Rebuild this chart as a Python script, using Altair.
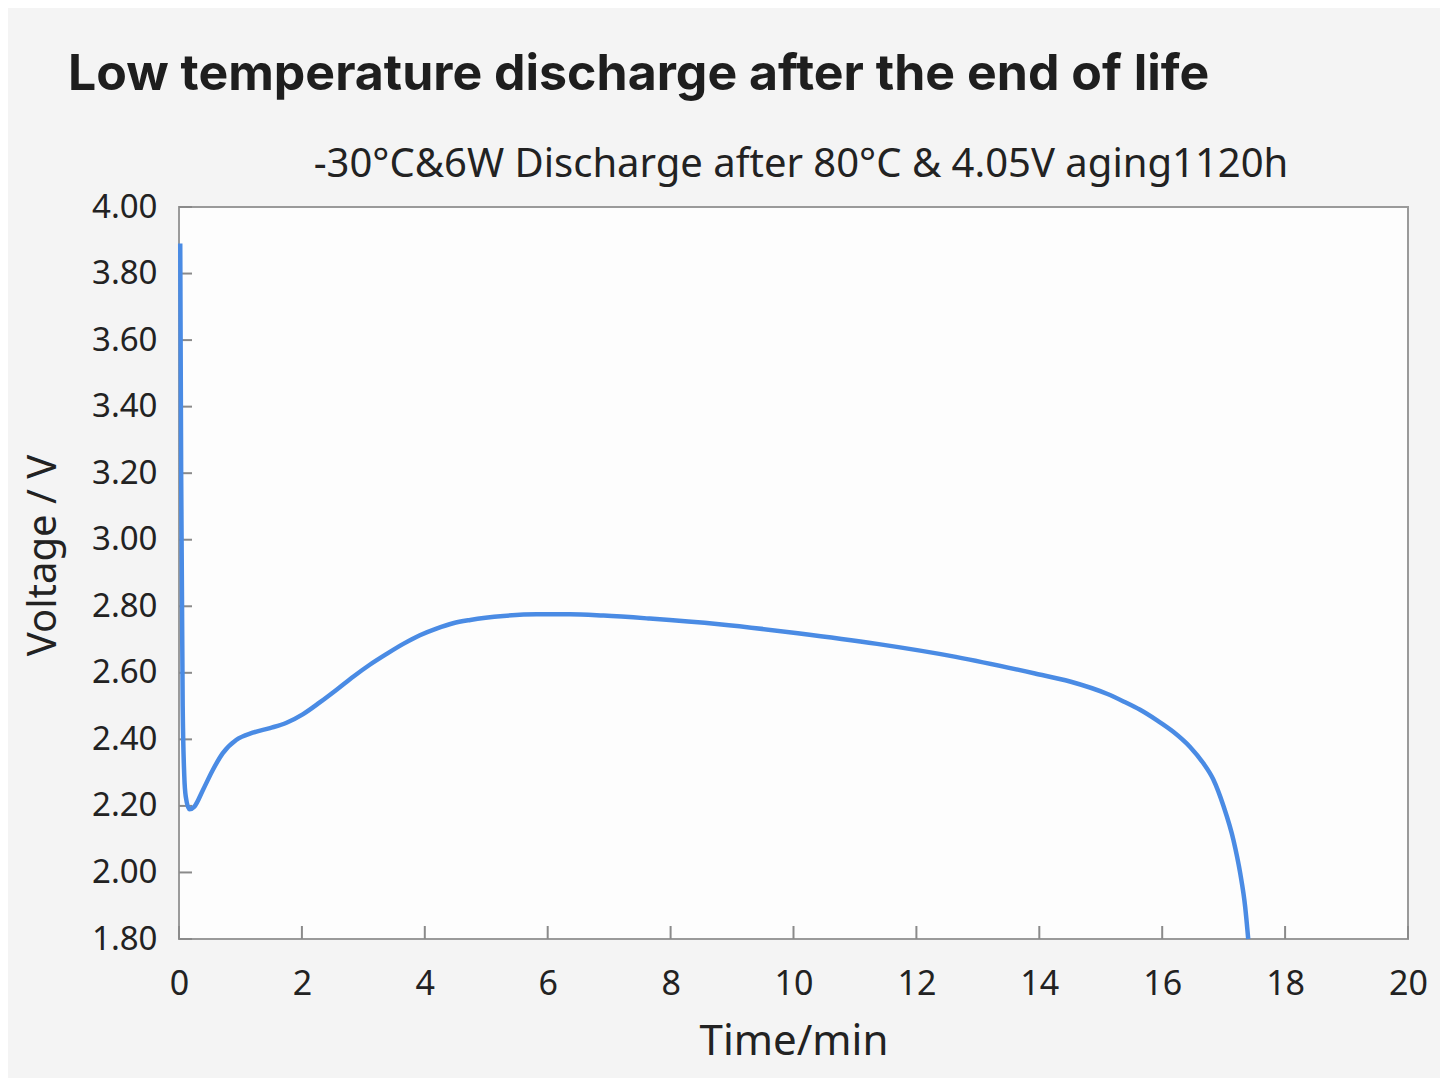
import altair as alt
import pandas as pd

# Discharge curve
time_min = [0.02, 0.035, 0.06, 0.086, 0.11, 0.17, 0.25, 0.39, 0.55, 0.71, 0.93, 1.20, 1.48,
            1.75, 2.02, 2.29, 2.57, 2.84, 3.11, 3.38, 3.65, 3.92, 4.19, 4.46, 4.74, 5.28,
            5.82, 6.36, 6.91, 7.66, 8.79, 10.07, 11.36, 12.64, 13.93, 14.50, 15.10,
            15.37, 15.64, 15.91, 16.18, 16.45, 16.67, 16.83, 17.00, 17.16, 17.27, 17.35, 17.40]
voltage_v = [3.89, 3.20, 2.50, 2.29, 2.228, 2.19, 2.198, 2.248, 2.308, 2.358, 2.398, 2.420, 2.434,
             2.450, 2.476, 2.511, 2.550, 2.589, 2.625, 2.657, 2.687, 2.713, 2.733, 2.749, 2.759, 2.771,
             2.776, 2.776, 2.772, 2.763, 2.746, 2.719, 2.687, 2.648, 2.598, 2.574, 2.537,
             2.514, 2.489, 2.458, 2.423, 2.378, 2.328, 2.280, 2.198, 2.097, 1.997, 1.897, 1.80]

x_ticks = [0, 2, 4, 6, 8, 10, 12, 14, 16, 18, 20]
y_ticks = [1.8, 2.0, 2.2, 2.4, 2.6, 2.8, 3.0, 3.2, 3.4, 3.6, 3.8, 4.0]

title_text = "Low temperature discharge after the end of life"
subtitle_text = "-30°C&6W Discharge after 80°C & 4.05V aging1120h"

W, H = 1229, 732
df = pd.DataFrame({"t": time_min, "v": voltage_v})
xt = pd.DataFrame({"t": x_ticks})
yt = pd.DataFrame({"v": y_ticks})

xscale = alt.Scale(domain=[0, 20], nice=False, zero=False)
yscale = alt.Scale(domain=[1.8, 4.0], nice=False, zero=False)
font = "Noto Sans"
ink = "#222222"

line = alt.Chart(df).mark_line(color="#4a8be4", strokeWidth=4.5, interpolate="monotone").encode(
    x=alt.X("t:Q", scale=xscale,
            axis=alt.Axis(title="Time/min", values=x_ticks, format="d", ticks=False, domain=False,
                          grid=False, labelFlush=False, labelFontSize=34, labelPadding=28,
                          labelColor=ink, labelFont=font, titleFont=font, titleFontSize=42,
                          titleFontWeight="normal", titleColor=ink, titlePadding=20)),
    y=alt.Y("v:Q", scale=yscale,
            axis=alt.Axis(title="Voltage / V", values=y_ticks, format=".2f", ticks=False, domain=False,
                          grid=False, labelFlush=False, labelFontSize=33, labelPadding=22,
                          labelColor=ink, labelFont=font, titleFont=font, titleFontSize=40,
                          titleFontWeight="normal", titleColor=ink, titlePadding=28, titleY=348)),
)

xtick_marks = alt.Chart(xt).mark_rule(color="#8a8a8a", strokeWidth=2).encode(
    x=alt.X("t:Q", scale=xscale), y=alt.value(H), y2=alt.value(H - 13)
)
ytick_marks = alt.Chart(yt).mark_rule(color="#8a8a8a", strokeWidth=2).encode(
    y=alt.Y("v:Q", scale=yscale), x=alt.value(0), x2=alt.value(13)
)

subtitle = alt.Chart(pd.DataFrame({"s": [subtitle_text]})).mark_text(
    font=font, fontSize=40, color=ink, align="center", baseline="alphabetic"
).encode(text="s:N", x=alt.value(622), y=alt.value(-30))

chart = alt.layer(ytick_marks, xtick_marks, line, subtitle).properties(
    width=W, height=H,
    padding={"left": 171, "top": 199, "right": 32, "bottom": 139},
    autosize=alt.AutoSizeParams(type="none"),
    title=alt.TitleParams(text=title_text, anchor="start", frame="group", dx=-111, offset=45,
                          font="Inter", fontSize=50, fontWeight="bold", color="#1e1e1e"),
).configure(background="#f4f4f4").configure_view(fill="#fdfdfd", stroke="#9a9a9a", strokeWidth=2)

chart.save("out.html", embed_options={"renderer": "svg", "actions": False})
